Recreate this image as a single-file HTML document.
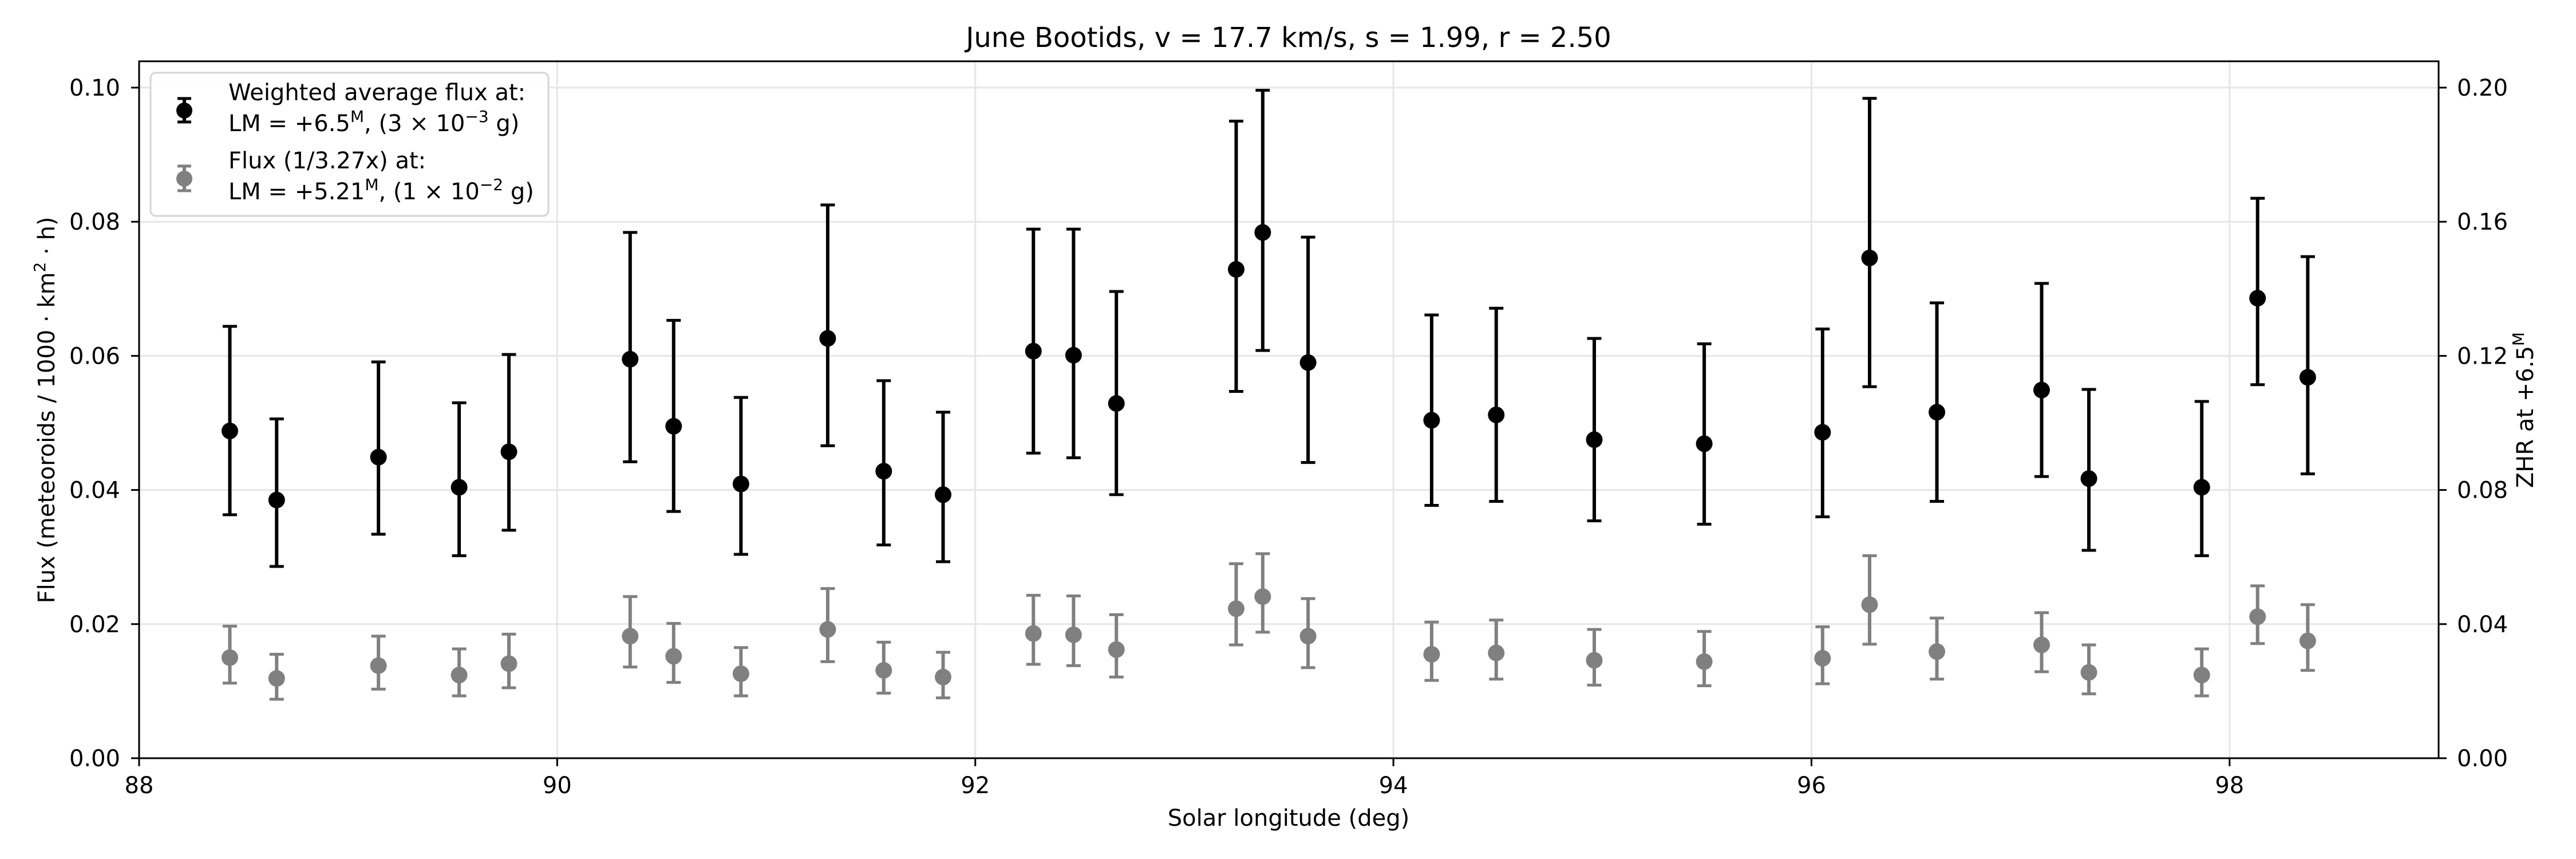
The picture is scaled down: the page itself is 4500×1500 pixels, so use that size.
<!DOCTYPE html>
<html>
<head>
<meta charset="utf-8">
<style>
html,body{margin:0;padding:0;background:#fff;}
svg{display:block;font-family:"DejaVu Sans","Liberation Sans",sans-serif;}
</style>
</head>
<body>
<svg id="chart" width="4500" height="1500" viewBox="0 0 4500 1500" xmlns="http://www.w3.org/2000/svg">
  <rect x="0" y="0" width="4500" height="1500" fill="#fff"/>
  <g id="grid"></g>
  <g id="marks"></g>
  <rect x="243" y="107" width="4017" height="1217" fill="none" stroke="#000" stroke-width="3"/>
  <g id="axes"></g>
  <text x="2251" y="82" font-size="48" text-anchor="middle">June Bootids, v = 17.7 km/s, s = 1.99, r = 2.50</text>
  <text x="2251" y="1442" font-size="40" text-anchor="middle">Solar longitude (deg)</text>
  <text transform="translate(95,716) rotate(-90)" font-size="40" text-anchor="middle">Flux (meteoroids / 1000 · km<tspan baseline-shift="super" font-size="28">2</tspan> · h)</text>
  <text transform="translate(4425,716) rotate(-90)" font-size="40" text-anchor="middle">ZHR at +6.5<tspan baseline-shift="super" font-size="28">M</tspan></text>
  <g id="legend">
    <rect x="263" y="127" width="695" height="250" rx="9" fill="#fff" fill-opacity="0.85" stroke="#d5d5d5" stroke-width="3"/>
    <g>
      <line x1="322" y1="172" x2="322" y2="213" stroke="#000" stroke-width="6"/>
      <line x1="310" y1="172" x2="334" y2="172" stroke="#000" stroke-width="5"/>
      <line x1="310" y1="213" x2="334" y2="213" stroke="#000" stroke-width="5"/>
      <circle cx="322" cy="193" r="14" fill="#000"/>
      <text x="399" y="175" font-size="40">Weighted average flux at:</text>
      <text x="399" y="229" font-size="40">LM = +6.5<tspan baseline-shift="super" font-size="28">M</tspan>, (3 × 10<tspan baseline-shift="super" font-size="28">−3</tspan> g)</text>
    </g>
    <g>
      <line x1="322" y1="290" x2="322" y2="333" stroke="#808080" stroke-width="6"/>
      <line x1="310" y1="290" x2="334" y2="290" stroke="#808080" stroke-width="5"/>
      <line x1="310" y1="333" x2="334" y2="333" stroke="#808080" stroke-width="5"/>
      <circle cx="322" cy="312" r="14" fill="#808080"/>
      <text x="399" y="294" font-size="40">Flux (1/3.27x) at:</text>
      <text x="399" y="348" font-size="40">LM = +5.21<tspan baseline-shift="super" font-size="28">M</tspan>, (1 × 10<tspan baseline-shift="super" font-size="28">−2</tspan> g)</text>
    </g>
  </g>
</svg>
<script>
const solarLon = [88.434,88.658,89.145,89.531,89.769,90.349,90.557,90.879,91.294,91.562,91.846,92.278,92.470,92.675,93.248,93.375,93.592,94.183,94.492,94.961,95.487,96.053,96.278,96.600,97.101,97.327,97.867,98.134,98.374];
const fluxMain = [0.0488,0.0385,0.0449,0.0404,0.0457,0.0595,0.0495,0.0409,0.0626,0.0428,0.0393,0.0607,0.0601,0.0529,0.0729,0.0784,0.0590,0.0504,0.0512,0.0475,0.0469,0.0486,0.0746,0.0516,0.0549,0.0417,0.0404,0.0686,0.0568];
const fluxMainHi = [0.0644,0.0506,0.0591,0.0530,0.0602,0.0784,0.0653,0.0538,0.0825,0.0563,0.0516,0.0789,0.0789,0.0696,0.0950,0.0996,0.0777,0.0661,0.0671,0.0626,0.0618,0.0640,0.0984,0.0679,0.0708,0.0550,0.0532,0.0835,0.0748];
const fluxMainLo = [0.0363,0.0286,0.0334,0.0302,0.0340,0.0442,0.0368,0.0304,0.0466,0.0318,0.0293,0.0455,0.0448,0.0393,0.0547,0.0608,0.0441,0.0377,0.0383,0.0354,0.0349,0.0360,0.0554,0.0383,0.0420,0.0310,0.0302,0.0557,0.0424];
const fluxScaled = [0.0150,0.0119,0.0138,0.0124,0.0141,0.0182,0.0152,0.0126,0.0192,0.0131,0.0121,0.0186,0.0184,0.0162,0.0223,0.0241,0.0182,0.0155,0.0157,0.0146,0.0144,0.0149,0.0229,0.0159,0.0169,0.0128,0.0124,0.0211,0.0175];
const fluxScaledHi = [0.0197,0.0155,0.0182,0.0163,0.0185,0.0241,0.0201,0.0165,0.0253,0.0173,0.0158,0.0243,0.0242,0.0214,0.0290,0.0305,0.0238,0.0203,0.0206,0.0192,0.0189,0.0196,0.0302,0.0209,0.0217,0.0169,0.0163,0.0257,0.0229];
const fluxScaledLo = [0.0112,0.0088,0.0103,0.0093,0.0105,0.0136,0.0113,0.0093,0.0144,0.0097,0.0090,0.0140,0.0138,0.0121,0.0169,0.0188,0.0135,0.0116,0.0118,0.0109,0.0108,0.0111,0.0170,0.0118,0.0129,0.0096,0.0093,0.0171,0.0131];
const xTicks = [88,90,92,94,96,98];
const yTicks = ["0.00","0.02","0.04","0.06","0.08","0.10"];
const zhrTicks = ["0.00","0.04","0.08","0.12","0.16","0.20"];

const NS = "http://www.w3.org/2000/svg";
const X0 = 243, X1 = 4260, Y0 = 1324, Y1 = 107;
const xMin = 88, xMax = 99, yMin = 0, yMax = 0.104;
function xs(v){ return X0 + (v - xMin) / (xMax - xMin) * (X1 - X0); }
function ys(v){ return Y0 - (v - yMin) / (0.1 - yMin) * (Y0 - 153); }
function zs(v){ return ys(v / 2); }
function mk(tag, attrs, parent){
  const e = document.createElementNS(NS, tag);
  for (const k in attrs) e.setAttribute(k, attrs[k]);
  parent.appendChild(e);
  return e;
}
const grid = document.getElementById('grid');
const axes = document.getElementById('axes');
const marks = document.getElementById('marks');

xTicks.forEach(t => {
  const x = xs(t);
  const g = mk('line', {x1:x, x2:x, y1:Y1, y2:Y0, stroke:'#e6e6e6', 'stroke-width':3}, grid);
  
  
  const tk = mk('line', {x1:x, x2:x, y1:Y0, y2:Y0+14, stroke:'#000', 'stroke-width':3}, axes);
  
  
  const lb = mk('text', {x:x, y:1385, 'font-size':40, 'text-anchor':'middle'}, axes);
  lb.textContent = String(t);
  
  
});
yTicks.forEach(t => {
  const y = ys(parseFloat(t));
  const g = mk('line', {x1:X0, x2:X1, y1:y, y2:y, stroke:'#e6e6e6', 'stroke-width':3}, grid);
  
  
  const tk = mk('line', {x1:X0-14, x2:X0, y1:y, y2:y, stroke:'#000', 'stroke-width':3}, axes);
  
  
  const lb = mk('text', {x:210, y:y+14, 'font-size':40, 'text-anchor':'end'}, axes);
  lb.textContent = t;
  
  
});
zhrTicks.forEach(t => {
  const y = zs(parseFloat(t));
  const tk = mk('line', {x1:X1, x2:X1+14, y1:y, y2:y, stroke:'#000', 'stroke-width':3}, axes);
  
  
  const lb = mk('text', {x:4292, y:y+14, 'font-size':40, 'text-anchor':'start'}, axes);
  lb.textContent = t;
  
  
});

function series(vals, hi, lo, color, name){
  const g = mk('g', {}, marks);
  
  
  solarLon.forEach((sl, i) => {
    const x = xs(sl), yc = ys(vals[i]), yt = ys(hi[i]), yb = ys(lo[i]);
    const p = mk('g', {}, g);
    
    
    mk('line', {x1:x, x2:x, y1:yt, y2:yb, stroke:color, 'stroke-width':6}, p);
    mk('line', {x1:x-12.5, x2:x+12.5, y1:yt, y2:yt, stroke:color, 'stroke-width':5}, p);
    mk('line', {x1:x-12.5, x2:x+12.5, y1:yb, y2:yb, stroke:color, 'stroke-width':5}, p);
    mk('circle', {cx:x, cy:yc, r:14.5, fill:color}, p);
  });
}
series(fluxScaled, fluxScaledHi, fluxScaledLo, '#808080', 'scaled-flux');
series(fluxMain, fluxMainHi, fluxMainLo, '#000000', 'weighted-flux');
</script>
</body>
</html>
